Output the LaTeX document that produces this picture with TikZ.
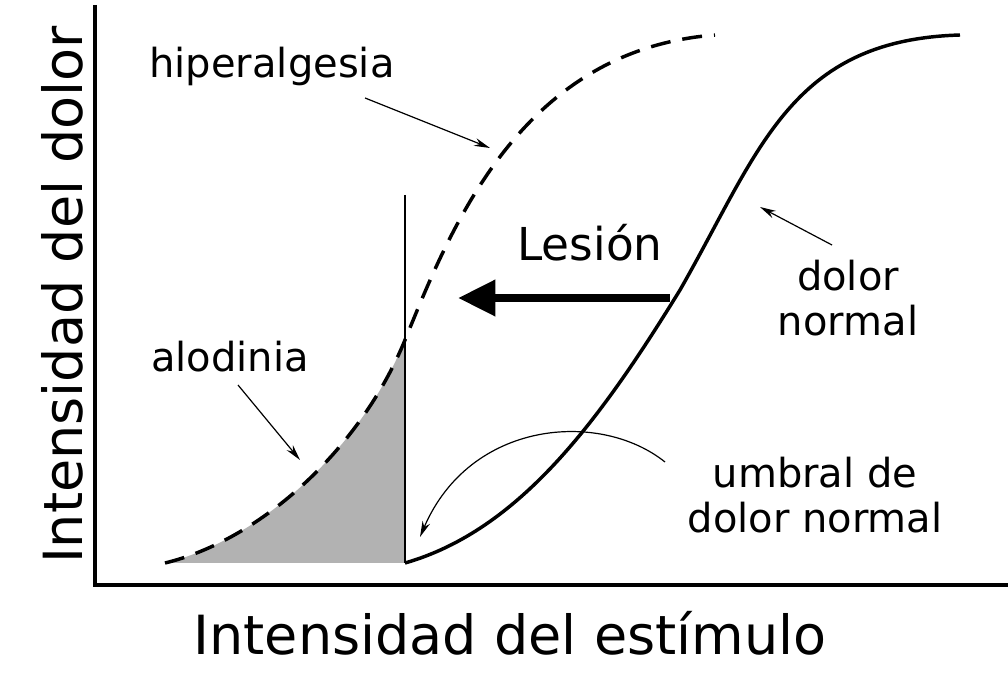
\documentclass[tikz,border=0pt]{standalone}
\usepackage{fontspec}
\setmainfont{DejaVu Sans}
\usetikzlibrary{arrows.meta}
\begin{document}
\begin{tikzpicture}[x=0.75pt,y=-0.75pt,
  lbl/.style={font=\fontsize{30}{34}\selectfont,align=center,inner sep=0pt},
  ax/.style={font=\fontsize{40.5}{44}\selectfont,inner sep=0pt},
  pt/.style={-{Stealth[length=12pt,width=6pt]},line width=0.9pt}]
\useasboundingbox (0,0) rectangle (1008,684);
\fill[gray!60] (165,563) .. controls (260,540) and (360,450) .. (405,340) -- (405,563) -- cycle;
\draw[line width=0.8pt] (405,195) -- (405,563);
\draw[line width=2.4pt] (95,5) -- (95,585) -- (1008,585);
\draw[line width=2.6pt,dash pattern=on 15pt off 9pt] (165,563) .. controls (260,540) and (360,450) .. (405,340) .. controls (450,230) and (520,50) .. (715,35);
\draw[line width=2.6pt] (405,563) .. controls (520,530) and (600,420) .. (680,290) .. controls (760,150) and (790,40) .. (960,35);
\node[ax,rotate=90] (yl) at (62,295) {Intensidad del dolor};
\node[ax] (xl) at (510,633) {Intensidad del estímulo};
\node[lbl,font=\fontsize{34}{38}\selectfont] (les) at (590,243) {Lesión};
\coordinate (a1) at (670,298); \coordinate (a2) at (458,298);
\draw[line width=6pt,-{Triangle[length=28pt,width=26pt]}] (a1) -- (a2);
\node[lbl] (hip) at (272,66) {hiperalgesia};
\coordinate (h1) at (365,98); \coordinate (h2) at (490,148);
\draw[pt] (h1) -- (h2);
\node[lbl] (dn) at (848,298) {dolor\\normal};
\coordinate (d1) at (832,245); \coordinate (d2) at (760,207);
\draw[pt] (d1) -- (d2);
\node[lbl] (alo) at (230,357) {alodinia};
\coordinate (l1) at (238,385); \coordinate (l2) at (300,460);
\draw[pt] (l1) -- (l2);
\node[lbl] (umb) at (815,495) {umbral de\\dolor normal};
\coordinate (u1) at (665,462); \coordinate (u2) at (420,537);
\draw[pt] (u1) .. controls (600,410) and (470,420) .. (u2);
\end{tikzpicture}
\end{document}
